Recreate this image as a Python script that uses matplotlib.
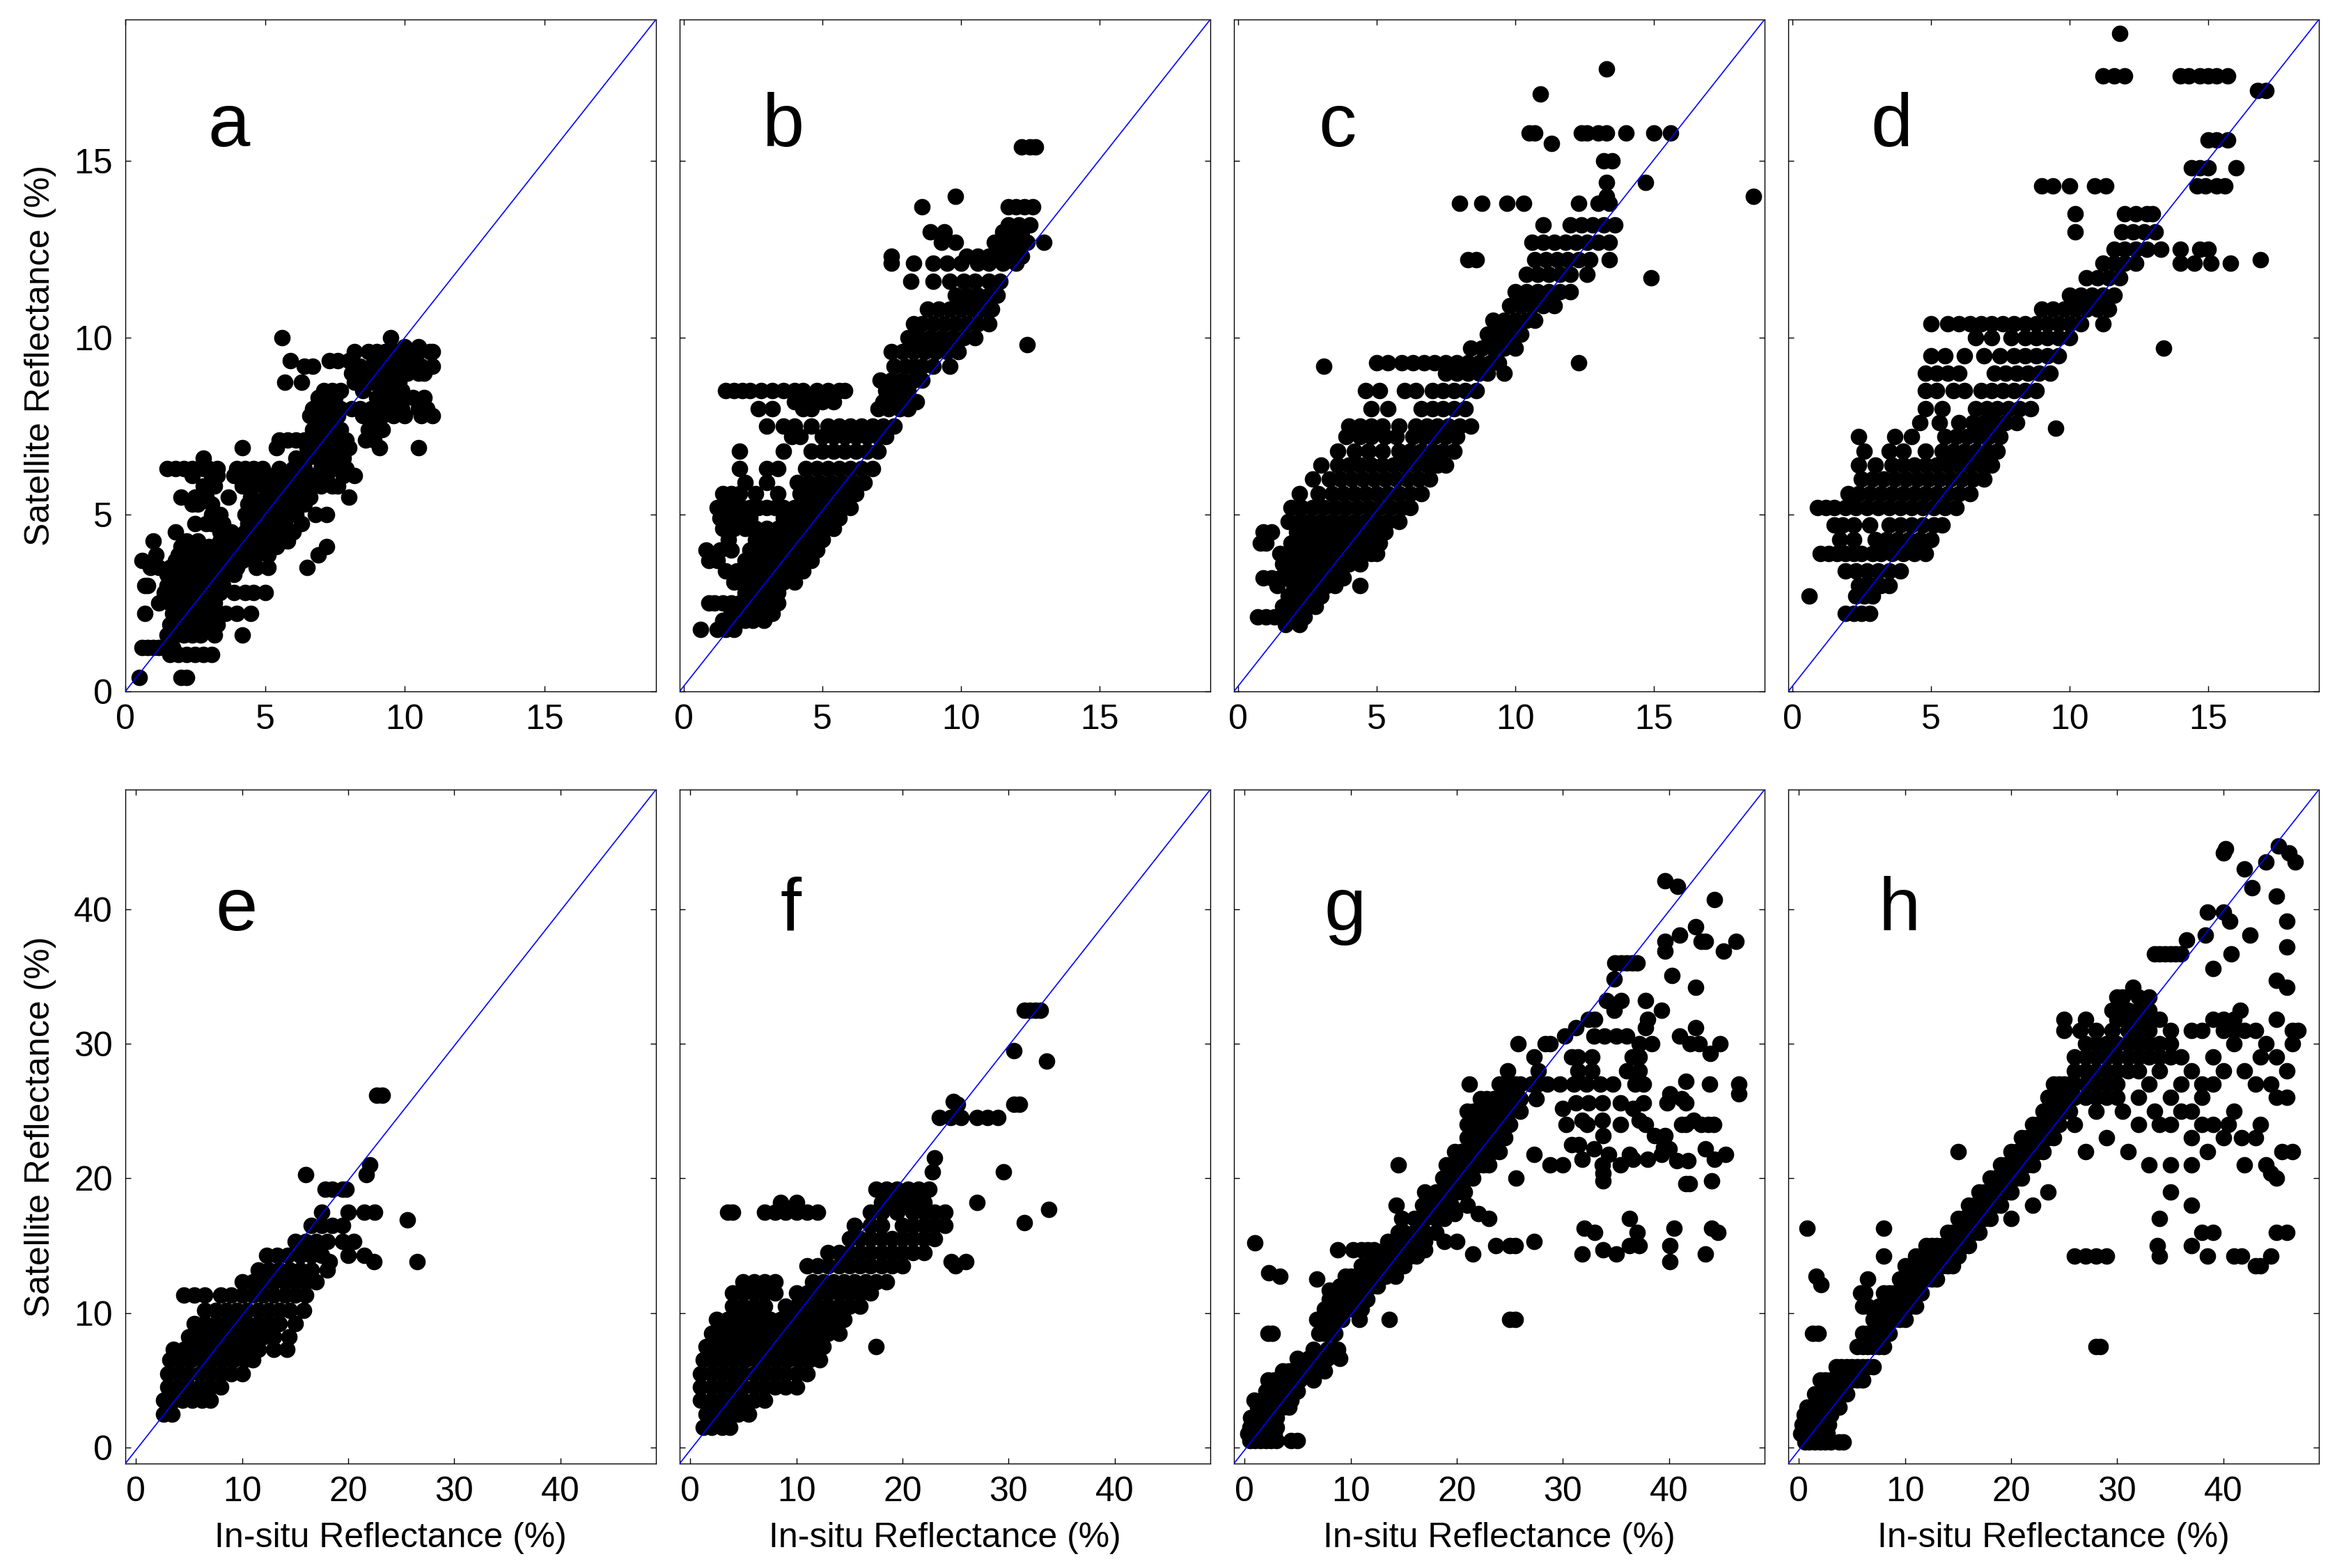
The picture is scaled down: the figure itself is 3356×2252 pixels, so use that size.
import matplotlib
matplotlib.use("Agg")
import matplotlib.pyplot as plt

plt.rcParams['font.family'] = ['Liberation Sans', 'DejaVu Sans']

# values, satellite reflectance level -> in-situ values
rows_a = {
    0.4: [0.5, 2.0, 2.2], 1.05: [1.6, 1.9, 2.2, 2.5, 2.8, 3.1], 1.25: [0.6, 0.8, 1.0, 1.2, 1.4, 1.7],
    1.6: [1.5, 1.8, 2.1, 2.4, 2.7, 3.2, 4.2], 1.9: [1.6, 2.0, 2.4, 2.8, 3.3],
    2.2: [0.7, 1.7, 2.0, 2.4, 2.8, 3.2, 3.6, 4.0, 4.5], 2.5: [1.2, 1.6, 2.0, 2.4, 2.8, 3.2],
    2.8: [1.4, 1.8, 2.2, 2.6, 3.0, 3.4, 3.9, 4.3, 4.6, 5.0], 3.0: [0.7, 0.8, 1.5, 1.9, 2.3, 2.7, 3.1, 3.5],
    3.3: [1.5, 1.9, 2.3, 2.7, 3.1, 3.5, 3.9], 3.5: [0.9, 1.2, 1.6, 2.0, 2.4, 2.8, 3.2, 3.6, 4.0, 4.7, 5.1, 6.5],
    3.7: [0.6, 1.8, 2.2, 2.6, 3.0, 3.4, 3.8, 4.2, 4.6], 3.85: [1.1, 1.9, 2.3, 2.7, 3.1, 3.5, 3.9, 4.3, 4.7, 5.1, 6.9],
    4.1: [2.0, 2.6, 3.0, 3.4, 3.8, 4.2, 4.6, 5.0, 5.4, 7.2], 4.25: [1.0, 2.2, 2.6, 3.4, 4.0, 4.6, 5.0, 5.6, 5.8],
    4.5: [1.8, 3.4, 3.8, 4.3, 4.8, 5.2, 5.7, 6.0], 4.75: [2.5, 2.9, 3.1, 3.5, 4.4, 4.8, 5.2, 5.7, 6.3],
    5.0: [3.1, 3.4, 4.3, 4.7, 5.1, 5.5, 5.9, 6.1, 6.8, 7.2], 5.3: [2.4, 2.6, 3.1, 4.4, 4.8, 5.2, 5.6, 6.0, 6.4],
    5.5: [2.0, 2.5, 2.9, 3.7, 4.5, 5.0, 5.4, 5.8, 6.2, 6.6, 8.0],
    5.8: [2.8, 3.2, 4.2, 4.6, 5.0, 5.4, 5.8, 6.2, 6.6, 7.0, 7.4, 7.6],
    6.1: [2.4, 3.1, 3.3, 3.9, 4.3, 4.7, 5.1, 5.5, 6.0, 6.4, 6.8, 7.2, 7.8, 8.2],
    6.3: [1.5, 1.8, 2.1, 2.4, 2.8, 3.0, 3.3, 4.0, 4.3, 4.6, 4.9, 5.5, 6.0, 6.4, 7.0, 7.4, 7.9],
    6.6: [2.8, 6.1, 6.5, 6.9, 7.3, 7.8], 6.9: [4.2, 5.4, 6.5, 6.9, 7.3, 7.7, 8.0, 9.1, 10.5],
    7.1: [5.5, 5.8, 6.1, 6.4, 6.7, 7.1, 7.5, 7.9, 8.6, 8.9], 7.4: [6.7, 7.0, 7.4, 7.7, 8.7, 9.0, 9.2],
    7.8: [6.6, 6.9, 7.2, 7.6, 8.5, 8.9, 9.2, 9.6, 10.0, 10.6, 11.0],
    8.0: [6.7, 7.0, 7.3, 7.7, 8.1, 8.4, 8.8, 9.2, 9.6, 9.9, 10.5, 10.8],
    8.3: [6.9, 7.2, 7.5, 9.0, 9.3, 9.6, 9.9, 10.3, 10.7], 8.5: [7.1, 7.4, 7.7, 8.5, 9.2, 9.6, 9.9],
    8.75: [5.7, 6.3, 8.2, 8.5, 8.8, 9.2, 9.5, 9.8], 9.0: [8.1, 8.4, 8.8, 9.1, 9.4, 9.8, 10.1, 10.5, 10.7],
    9.2: [6.4, 6.7, 8.4, 8.8, 9.2, 9.5, 9.9, 10.3, 10.6, 11.0], 9.35: [5.9, 7.3, 7.6, 8.0, 9.0, 9.4, 9.8, 10.2],
    9.6: [8.2, 8.7, 9.0, 9.3, 9.7, 10.1, 10.5, 10.9, 11.0], 9.75: [10.0, 10.5], 10.0: [5.6, 9.5],
}
rows_b = {
    1.75: [0.6, 1.2, 1.5, 1.8], 2.0: [1.4, 1.8, 2.2, 2.5, 2.9], 2.2: [1.7, 2.0, 2.4, 2.8, 3.2],
    2.5: [0.9, 1.1, 1.4, 1.7, 2.0, 2.3, 2.6, 3.0, 3.4], 2.8: [2.2, 2.6, 3.0, 3.4],
    3.1: [1.8, 2.1, 2.4, 2.8, 3.2, 3.6, 4.0], 3.4: [1.5, 1.9, 2.3, 2.7, 3.1, 3.5, 3.9, 4.3],
    3.7: [0.9, 1.2, 2.2, 2.6, 3.0, 3.4, 3.8, 4.2, 4.6], 4.0: [0.8, 1.3, 1.7, 2.4, 2.8, 3.2, 3.6, 4.0, 4.4, 4.8],
    4.3: [1.6, 2.6, 3.0, 3.4, 3.8, 4.2, 4.6, 5.0], 4.6: [1.4, 1.8, 2.2, 2.6, 3.0, 3.4, 3.8, 4.2, 4.6, 5.0, 5.4],
    4.9: [1.3, 1.6, 2.0, 2.4, 3.6, 4.0, 4.4, 4.8, 5.2, 5.6],
    5.2: [1.2, 1.5, 1.8, 2.1, 2.4, 2.7, 3.0, 3.3, 3.6, 4.0, 4.4, 4.8, 5.2, 5.6, 6.0],
    5.6: [1.4, 1.7, 2.0, 2.6, 3.4, 4.2, 4.6, 5.0, 5.4, 5.8, 6.2], 5.9: [2.2, 3.0, 4.1, 4.5, 4.9, 5.3, 5.7, 6.1, 6.5],
    6.3: [2.0, 3.0, 3.4, 4.4, 4.8, 5.2, 5.6, 6.0, 6.4, 6.8], 6.8: [2.0, 3.6, 4.6, 5.0, 5.4, 5.8, 6.2, 6.6, 7.0],
    7.2: [3.9, 4.2, 5.0, 5.4, 5.8, 6.2, 6.6, 7.0, 7.3], 7.5: [3.0, 3.6, 4.0, 4.6, 5.2, 5.6, 6.0, 6.4, 6.8, 7.2, 7.6],
    8.0: [2.7, 3.2, 4.3, 4.6, 7.0, 7.4, 7.8, 8.1], 8.2: [4.0, 4.5, 5.0, 5.4, 7.2, 7.6, 8.0, 8.4],
    8.5: [1.5, 1.8, 2.1, 2.4, 2.8, 3.2, 3.6, 4.0, 4.3, 4.8, 5.2, 5.6, 5.8, 7.3, 7.7, 8.1],
    8.8: [7.1, 7.5, 7.9, 8.3, 8.6], 9.2: [7.6, 8.0, 8.3, 8.6, 9.0, 9.6],
    9.6: [7.5, 7.9, 8.3, 8.7, 9.1, 9.5, 9.9], 9.8: [12.4], 10.0: [8.1, 8.5, 8.9, 9.3, 9.7, 10.1, 10.5],
    10.4: [8.3, 8.6, 9.0, 9.4, 9.8, 10.2, 10.6, 11.0], 10.8: [8.8, 9.2, 9.6, 10.0, 10.4, 10.8, 11.1],
    11.2: [9.8, 10.2, 10.6, 11.0, 11.3], 11.6: [8.2, 9.0, 9.6, 10.1, 10.5, 11.0, 11.4],
    12.1: [7.5, 8.3, 9.0, 9.5, 10.0, 10.6, 11.0, 11.5, 12.0], 12.3: [7.5, 10.2, 10.6, 11.0, 11.4, 11.8, 12.2],
    12.7: [9.3, 9.8, 11.2, 11.6, 12.0, 12.4, 13.0], 13.0: [8.9, 9.4, 11.5, 11.9, 12.2], 13.2: [11.7, 12.1, 12.5],
    13.7: [8.6, 11.7, 12.0, 12.3, 12.6], 14.0: [9.8], 15.4: [12.2, 12.5, 12.7],
}
rows_c = {
    1.9: [1.7, 2.2], 2.1: [0.7, 1.0, 1.3, 1.6, 2.0, 2.4], 2.4: [1.6, 2.0, 2.4, 2.8], 2.7: [1.8, 2.2, 2.6, 3.0],
    3.0: [1.4, 2.0, 2.4, 2.8, 3.2, 3.5, 4.4], 3.2: [0.9, 1.2, 1.5, 1.8, 2.2, 2.6, 3.0, 3.4, 3.8],
    3.6: [1.6, 2.0, 2.4, 2.8, 3.2, 3.6, 4.0, 4.4], 3.9: [1.5, 2.0, 2.4, 2.8, 3.2, 3.6, 4.0, 4.4, 4.8, 5.0],
    4.2: [0.8, 1.0, 1.9, 2.3, 2.7, 3.1, 3.5, 3.9, 4.3, 4.7, 5.1],
    4.5: [0.9, 1.2, 2.1, 2.5, 2.9, 3.3, 3.7, 4.1, 4.5, 4.9, 5.3],
    4.8: [1.8, 2.2, 2.6, 3.0, 3.4, 3.8, 4.2, 4.6, 5.0, 5.4, 5.8],
    5.2: [1.9, 2.3, 2.7, 3.1, 3.5, 3.9, 4.3, 4.7, 5.1, 5.5, 5.9, 6.2],
    5.6: [2.2, 2.9, 3.4, 3.8, 4.2, 4.6, 5.0, 5.4, 5.8, 6.2, 6.6],
    6.0: [2.7, 3.3, 3.7, 4.1, 4.5, 4.9, 5.3, 5.7, 6.1, 6.5, 6.9],
    6.4: [3.0, 3.6, 4.0, 4.4, 4.8, 5.2, 5.6, 6.0, 6.4, 6.8, 7.2, 7.5],
    6.8: [3.6, 4.2, 4.7, 5.2, 5.8, 6.2, 6.6, 7.0, 7.4, 7.8],
    7.2: [3.9, 4.4, 4.8, 5.3, 5.7, 6.3, 6.7, 7.1, 7.5, 7.9],
    7.5: [4.0, 4.4, 4.8, 5.2, 5.8, 6.4, 6.8, 7.2, 7.6, 8.0, 8.4], 8.0: [4.8, 5.4, 6.6, 7.0, 7.4, 7.8, 8.2],
    8.5: [4.6, 5.1, 6.0, 6.4, 7.0, 7.4, 7.8, 8.2, 8.6], 9.0: [7.5, 7.9, 8.3, 8.7, 9.0, 9.6], 9.2: [3.1],
    9.3: [5.0, 5.4, 5.9, 6.3, 6.7, 7.1, 7.5, 7.9, 8.3, 8.7, 9.1, 9.4, 12.3], 9.7: [8.4, 8.8, 9.2, 9.6, 10.0],
    10.1: [9.0, 9.4, 9.8, 10.2], 10.5: [9.2, 9.6, 10.0, 10.4, 10.7], 10.9: [9.8, 10.2, 10.6, 11.0, 11.4],
    11.3: [10.0, 10.4, 10.8, 11.2, 11.6, 12.0], 11.7: [14.9], 11.8: [10.4, 10.8, 11.2, 11.6, 12.0, 12.6],
    12.2: [8.3, 8.6, 10.7, 11.1, 11.5, 11.9, 12.3, 12.7, 13.4], 12.7: [10.6, 11.0, 11.4, 11.8, 12.2, 12.6, 13.0, 13.4],
    13.2: [11.0, 12.0, 12.4, 12.8, 13.2, 13.6], 13.8: [8.0, 8.8, 9.7, 10.3, 12.3, 13.0, 13.4], 14.0: [13.3, 18.6],
    14.4: [13.3, 14.7], 15.0: [13.2, 13.5], 15.5: [11.3],
    15.8: [10.5, 10.7, 12.4, 12.6, 13.0, 13.3, 14.0, 15.0, 15.6], 16.9: [10.9], 17.6: [13.3],
}
rows_d = {
    2.2: [1.9, 2.2, 2.5, 2.8], 2.7: [0.6, 2.3, 2.6, 2.9], 3.0: [2.4, 2.6, 2.9, 3.2, 3.5],
    3.4: [1.9, 2.3, 2.7, 3.1, 3.5, 3.9], 3.9: [1.0, 1.3, 1.6, 1.9, 2.2, 2.5, 2.9, 3.2, 3.6, 4.0, 4.4, 4.8],
    4.3: [1.7, 2.2, 3.0, 3.4, 3.8, 4.2, 4.6, 5.0], 4.7: [1.5, 1.8, 2.2, 2.8, 3.5, 3.9, 4.3, 4.7, 5.1, 5.4],
    5.2: [0.9, 1.2, 1.5, 1.9, 2.3, 2.7, 3.1, 3.5, 3.9, 4.3, 4.7, 5.1, 5.5, 5.9],
    5.6: [2.0, 2.4, 2.8, 3.2, 3.6, 4.0, 4.4, 4.8, 5.2, 5.6, 6.0, 6.4],
    6.0: [2.5, 2.9, 3.3, 3.7, 4.1, 4.5, 4.9, 5.3, 5.7, 6.1, 6.5, 6.9],
    6.4: [2.4, 3.0, 3.6, 4.0, 4.4, 4.8, 5.2, 5.6, 6.0, 6.4, 6.8, 7.2],
    6.8: [2.6, 3.5, 4.0, 4.8, 5.4, 5.8, 6.2, 6.6, 7.0, 7.4], 7.2: [2.4, 3.7, 4.3, 5.5, 5.9, 6.3, 6.7, 7.1, 7.5],
    7.45: [9.5], 7.6: [4.6, 5.3, 6.0, 6.5, 6.9, 7.3, 7.7, 8.1], 8.0: [4.8, 5.4, 6.6, 7.0, 7.4, 7.8, 8.2, 8.6],
    8.5: [4.8, 5.2, 5.8, 6.2, 6.8, 7.2, 7.6, 8.0, 8.4, 8.8], 9.0: [4.8, 5.2, 5.6, 6.0, 7.3, 7.7, 8.1, 8.5, 8.9, 9.3],
    9.5: [5.0, 5.5, 6.2, 6.9, 7.5, 8.0, 8.4, 8.8, 9.2, 9.6], 9.7: [13.4], 10.0: [6.6, 7.2, 7.9, 8.4, 8.8, 9.2, 9.6, 10.0],
    10.4: [5.0, 5.6, 6.0, 6.4, 6.8, 7.2, 7.6, 8.0, 8.4, 8.8, 9.2, 9.6, 10.0, 10.4, 11.2],
    10.8: [9.0, 9.4, 9.8, 10.2, 10.6, 11.0, 11.4], 11.2: [10.0, 10.4, 10.8, 11.2, 11.6],
    11.7: [10.6, 11.0, 11.4, 11.8], 12.1: [11.2, 11.6, 12.0, 12.4, 14.0, 14.5, 15.1, 15.8],
    12.2: [16.9], 12.5: [11.6, 12.0, 12.4, 12.8, 13.3, 14.0, 14.7, 15.0], 13.0: [10.2, 11.9, 12.3, 12.7, 13.1],
    13.5: [10.2, 12.0, 12.4, 12.8, 13.0], 14.3: [9.0, 9.4, 10.0, 10.9, 11.3, 14.6, 14.9, 15.3, 15.6],
    14.8: [14.4, 14.7, 15.0, 16.0], 15.6: [15.0, 15.3, 15.7], 17.0: [16.8, 17.1],
    17.4: [11.2, 11.6, 12.0, 14.0, 14.3, 14.7, 15.0, 15.3, 15.7], 18.6: [11.8],
}
rows_e = {
    2.5: [2.6, 3.4], 3.5: [2.6, 3.5, 4.4, 5.3, 6.2, 7.0], 4.5: [3, 4, 5, 6, 7, 8],
    5.5: [3, 4, 5, 6, 7, 8, 9, 10], 6.5: [3.2, 4.2, 5.2, 6.2, 7.2, 8.2, 9.2, 10.2, 11],
    7.3: [3.5, 4.5, 5.5, 6.5, 7.5, 8.5, 9.5, 10.5, 11.5, 13, 14.2], 8.2: [5, 6, 7, 8, 9, 10, 11, 12, 13, 14.4],
    9.2: [5.5, 6.5, 7.5, 8.5, 9.5, 10.5, 11.5, 12.5, 13.5, 15], 10.2: [6.5, 7.5, 8.5, 9.5, 10.5, 11.5, 12.5, 13.5, 14.5, 15.8],
    11.3: [4.5, 5.5, 6.5, 8, 9, 10, 11, 12, 13, 14, 15, 16], 12.3: [10, 11, 12, 13, 14, 15, 16, 17],
    13.2: [11.5, 12.5, 13.5, 14.5, 15.5, 16.5, 18], 13.8: [18.2, 22.4, 26.5],
    14.3: [12.3, 13.3, 14.3, 15.5, 16.5, 17.5, 20, 21.5], 15.3: [15, 16, 17, 18, 19.5, 20.5],
    16.5: [16.5, 17.5, 18.5, 19.5], 16.9: [25.6], 17.5: [17.5, 20, 21.5, 22.5], 19.2: [17.8, 18.5, 19.5, 19.8],
    20.3: [16, 21.7], 21: [22], 26.2: [22.7, 23.2],
}
rows_f = {
    1.5: [1.2, 2, 3, 3.7], 2.5: [1.5, 2.5, 3.5, 4.5, 5.5], 3.5: [1, 2, 3, 4, 5, 6, 7],
    4.5: [1, 2, 3, 4, 5, 6, 7, 8, 9, 10], 5.5: [1, 2, 3, 4, 5, 6, 7, 8, 9, 10, 11],
    6.5: [1.2, 2.2, 3.2, 4.2, 5.2, 6.2, 7.2, 8.2, 9.2, 10.2, 11.2, 12.2],
    7.5: [1.5, 2.5, 3.5, 4.5, 5.5, 6.5, 7.5, 8.5, 9.5, 10.5, 11.5, 12.5, 17.5],
    8.5: [2, 3, 4, 5, 6, 7, 8, 9, 10, 11, 12, 13, 14],
    9.5: [2.5, 3.5, 4.5, 5.5, 6.5, 7.5, 8.5, 9.5, 10.5, 11.5, 12.5, 13.5, 14.5],
    10.5: [4, 5, 6, 7, 9, 10, 11, 12, 13, 14, 15, 16], 11.5: [4, 5, 6, 7, 8, 10, 11, 12, 13, 14, 15, 16, 17],
    12.3: [5, 6, 7, 8, 11.5, 12.5, 13.5, 14.5, 15.5, 16.5, 17.5, 18.5],
    13.5: [11, 12, 13, 14, 15, 16, 17, 18, 19, 20, 25], 13.8: [24.6, 26],
    14.5: [13, 14, 15, 16, 17, 18, 19, 20, 21, 22], 15.5: [15, 16, 17, 18, 19, 20, 21, 22, 23],
    16.5: [15.5, 17, 18, 20, 21, 22, 23, 24], 16.7: [31.5],
    17.5: [3.5, 4, 7, 8, 9, 10, 11, 12, 17, 18, 19.5, 21, 22, 23, 24], 17.7: [33.8],
    18.2: [8.5, 10, 18, 19, 20, 21, 22, 27], 19.2: [17.5, 18.5, 19.5, 20.5, 21.5, 22.5],
    20.5: [22.8, 29.5], 21.5: [23], 24.5: [23.5, 24.5, 25.5, 27, 28, 29], 25.5: [25.2, 30.5, 31], 25.7: [24.8],
    28.7: [33.6], 29.5: [30.5], 32.5: [31.5, 32, 32.5, 33],
}
rows_g = {
    0.5: [0.5, 1, 1.5, 2, 2.5, 3, 4.4, 5], 1: [0.3, 0.8, 1.3, 1.8, 2.3, 2.8], 1.5: [0.5, 1, 1.5, 2, 2.5, 3],
    2.2: [0.6, 1.2, 1.8, 2.4, 3], 3: [1.2, 1.8, 2.4, 3, 3.6, 4.2], 3.5: [0.9, 2, 2.6, 3.2, 3.8, 4.4],
    4.2: [2, 2.6, 3.2, 3.8, 4.4, 5], 5: [2.2, 2.8, 3.4, 4, 4.6, 5.2, 6.5], 5.7: [3.6, 4.2, 4.8, 5.4, 6, 6.6, 7.5],
    6.6: [5, 6, 6.5, 7, 7.8, 9], 7.3: [6.5, 7.8, 8.4, 8.8], 8.5: [2.2, 2.6, 7, 7.5, 8, 8.5],
    9.5: [25, 25.5, 6.8, 7, 8, 8.6, 9.2, 10.8, 13.6], 10.3: [7.5, 8, 8.5, 9, 9.5, 10, 11],
    11: [8, 8.5, 9, 9.5, 10, 10.5, 11, 11.5], 11.7: [8, 8.6], 12: [9, 9.5, 10, 10.5, 11, 11.5, 12, 12.5],
    12.5: [6.8], 12.7: [3.3, 9.5, 10, 11.2, 11.6, 12.2, 12.8, 13.3, 14.2], 13: [2.3],
    13.5: [11, 11.5, 12, 12.5, 13, 13.5, 14, 15], 13.8: [40.1],
    14.2: [12, 12.6, 13, 13.4, 13.8, 14.2, 14.6, 15, 15.6, 16.2],
    14.4: [21.5, 31.8, 35, 43.4], 14.7: [8.8, 10.2, 11, 11.6, 12.2, 13.2, 13.8, 14.4, 15, 15.6, 16.5, 17, 33.8],
    15: [23.7, 25, 25.5, 36.3, 37.2, 40.1], 15.2: [1], 15.3: [13.5, 14, 14.5, 15, 15.5, 16, 16.5, 17, 18.8, 20, 27.3],
    16: [14.5, 15, 16, 17, 18, 33, 37, 44.6], 16.3: [32, 40.5, 44],
    17: [14.8, 16, 16.5, 17, 18, 18.8, 23, 36.3], 17.4: [19.8, 22], 18: [14.3, 16.8, 17.5, 18, 18.5, 19, 19.5, 21],
    19: [17, 18, 18.5, 19, 20, 20.5, 20.7], 19.6: [41.6, 41.9], 19.8: [33.8, 44],
    20: [18.7, 19.3, 20, 20.5, 21, 21.5, 25.6], 20.4: [33.8],
    21: [14.5, 19, 19.6, 20.2, 20.8, 21.4, 22, 22.5, 23, 28.8, 30, 33.7, 35.4], 21.3: [41.8, 40.7],
    21.4: [31.8, 36.6, 38, 44.3], 21.8: [27.3, 34.3, 36.3, 39.3, 45.3],
    22: [19.8, 20.4, 21, 21.6, 22.2, 22.8, 23.4, 24], 22.2: [32.9, 40, 43.4], 22.3: [39.5], 22.5: [30.8, 31.5],
    23: [21, 21.5, 22, 22.5, 23, 23.5, 24, 24.5], 23.2: [33.8, 38.6, 39.6],
    24: [21, 21.5, 22, 23, 23.5, 24, 24.5, 25, 30.3, 32.3, 35.4, 37.8, 41.2, 41.6, 43, 43.7, 44.2],
    24.3: [31.8, 33.7, 37.2, 42.3], 25: [21, 21.6, 22.2, 23, 23.5, 24, 24.5, 25, 26],
    25.2: [30, 36.6], 25.6: [31.2, 32.4, 33.7, 35.4, 37.6, 39.8, 41.6], 25.9: [22.2, 22.8, 23.5, 24.2, 25, 26, 27.5, 41.2],
    26.3: [40.1, 46.6], 27: [21.2, 24, 24.5, 25, 25.5, 26, 27, 27.6, 28.5, 29.7, 31, 32.2, 33.5, 34.7, 36.8, 37.6, 43.8, 46.6],
    27.2: [41.6], 28: [24.8, 27.7, 31.4, 32.7, 36, 37.2], 29: [27.3, 30.8, 31.4, 32.7, 36.5, 37.2],
    30: [25.8, 28.3, 28.8, 37.2, 38.4, 42, 42.8, 44.8], 29.3: [43.9], 30.6: [30.2, 32.9, 33.9, 35, 36, 41],
    31.2: [31.2, 37.8, 42.5], 31.8: [32.4, 33, 38], 32.5: [34.8, 39.3], 33.2: [34.1, 35.5, 37.8],
    34.2: [42.5], 34.8: [34.8], 35.1: [40.3], 36: [34.9, 35.5, 36, 36.5, 37], 36.9: [39.6, 45.1],
    37.6: [39.6, 43, 43.4, 46.3], 38.1: [41], 38.7: [42.5], 40.7: [44.3], 41.7: [40.8], 42.1: [39.6],
}
rows_h = {
    0.4: [0.6, 1, 1.5, 2, 2.5, 3, 3.8, 4.2], 1: [0.2, 0.7, 1.2, 1.7, 2.2, 2.7], 1.7: [0.3, 0.8, 1.3, 1.8, 2.3, 2.8],
    2.4: [0.5, 1, 1.5, 2, 2.5, 3], 3: [0.8, 1.4, 2, 2.6, 3.2, 3.8], 4: [1.5, 2, 2.5, 3, 3.5, 4, 4.5],
    5: [2, 2.5, 3, 3.5, 4, 4.5, 5, 5.5, 6], 6: [3.5, 4, 4.5, 5, 5.5, 6, 6.5, 7],
    7.5: [28, 28.4, 5.5, 6, 6.5, 7, 7.5, 8], 8.5: [1.3, 1.8, 6, 6.5, 7, 7.5, 8, 8.5],
    9.5: [7, 7.5, 8, 8.5, 9, 9.5, 10], 10.5: [6, 6.5, 7.5, 8, 8.5, 9, 9.5, 10, 10.5, 11],
    11.5: [5.8, 6.2, 8, 8.5, 9, 9.5, 10, 10.5, 11, 11.5], 12.1: [2.1], 12.7: [1.6],
    12.5: [6.5, 9.5, 10, 10.5, 11, 11.5, 12, 12.5, 13],
    13.5: [10, 10.5, 11, 11.5, 12, 12.5, 13, 13.5, 14, 14.5, 43, 43.5],
    14.2: [8, 11, 11.5, 12, 12.5, 13, 13.5, 14, 14.5, 15, 26, 27, 28, 29, 34, 38.5, 41, 41.7, 44.5],
    15: [12, 12.5, 13, 13.5, 14, 14.5, 15, 15.5, 16, 33.8, 37],
    16: [14, 14.5, 15, 15.5, 16, 16.5, 17, 38, 39, 45, 46], 16.3: [0.8, 8],
    17: [15, 15.5, 16, 16.5, 17, 17.5, 18, 20, 34], 18: [16, 16.5, 17, 17.5, 18, 18.5, 19, 22, 37],
    19: [17, 17.5, 18, 18.5, 19, 19.5, 20, 23.5, 35], 20: [18, 18.5, 19, 19.5, 20, 20.5, 21, 45],
    20.4: [44.5], 21: [19, 19.5, 20, 20.5, 21, 21.5, 22, 33, 35, 37, 42, 44],
    22: [15, 20, 20.5, 21, 21.5, 22, 22.5, 23, 27, 31, 38.5, 45.5, 46.5],
    23: [21, 21.5, 22, 22.5, 23, 23.5, 24, 29, 37, 40, 43, 41.7],
    24: [22, 22.5, 23, 23.5, 24, 24.5, 26, 32, 34, 35, 38, 39, 40.5, 43.5],
    25: [23, 23.5, 24, 24.5, 25, 25.5, 28, 30.5, 33.5, 36, 37, 41], 26: [23.5, 24, 24.5, 25, 25.5, 26, 27, 28, 29, 30, 32, 35, 38, 45, 46],
    27: [24, 24.5, 25, 25.5, 26, 27, 28, 29, 30, 33, 36, 38, 39, 43, 44.5],
    28: [26, 27, 28, 29, 30, 31, 32, 34, 37, 40, 42, 46], 29: [26, 27, 28, 29, 30, 31, 32, 33, 34, 35, 36, 39, 43.5, 45],
    30: [27, 28, 29, 30, 31, 32, 33, 34, 35, 41, 44, 46.5], 31: [25, 26.5, 28, 29.5, 31, 32, 33, 35, 37, 38, 40, 41, 42, 43, 46.5, 47],
    31.8: [25, 27, 30, 31, 32, 33, 34, 39, 40, 41, 45],
    32.5: [29.5, 30, 31, 32, 33, 41.6], 33.5: [30, 30.5, 32, 33], 34.2: [31.5, 46], 34.7: [45],
    35.6: [39], 36.7: [33.5, 34, 34.5, 35, 35.5, 36, 40.7], 37.2: [46], 37.7: [36.5], 38.1: [38.3, 42.5],
    39.1: [40.6, 46], 39.8: [38.5, 40], 41: [45], 41.6: [42.7], 43: [42], 43.5: [44, 46.8],
    44.2: [46.2, 40], 44.5: [40.2], 44.7: [45.2],
}

panel_rows = [rows_a, rows_b, rows_c, rows_d, rows_e, rows_f, rows_g, rows_h]
panel_letters = ['a', 'b', 'c', 'd', 'e', 'f', 'g', 'h']
top_ticks = [0, 5, 10, 15]
bottom_ticks = [0, 10, 20, 30, 40]
ylabel = 'Satellite Reflectance (%)'
xlabel = 'In-situ Reflectance (%)'


def draw_panel(ax, rows, letter, top_row, first_col):
    for y, xs in rows.items():
        ax.scatter(xs, [y] * len(xs), s=290, c='k', linewidths=0, zorder=2)
    # the 1:1 line runs corner to corner
    ax.plot([0, 1], [0, 1], transform=ax.transAxes, color='#0000ff', lw=1.2, zorder=3)

    if top_row:
        ax.set_xlim(0 if first_col else -0.15, 19)
        ax.set_ylim(0, 19)
        ax.set_xticks(top_ticks)
        ax.set_yticks(top_ticks)
    else:
        ax.set_xlim(-1, 49)
        ax.set_ylim(-1.2, 48.9)
        ax.set_xticks(bottom_ticks)
        ax.set_yticks(bottom_ticks)
        ax.set_xlabel(xlabel, fontsize=36, labelpad=14)

    ax.tick_params(direction='in', length=6, width=1, top=True, right=True, labelsize=36, pad=13)
    if first_col:
        ax.set_ylabel(ylabel, fontsize=36, labelpad=18)
    else:
        ax.tick_params(labelleft=False)
    for spine in ax.spines.values():
        spine.set_linewidth(1)

    ax.text(0.195 if top_row else 0.21, 0.84 if top_row else 0.82, letter, transform=ax.transAxes,
            fontsize=78, ha='center', va='center')


def main():
    W, H = 3356, 2252
    fig = plt.figure(figsize=(W / 100, H / 100), dpi=100)
    lefts = [180, 976, 1772, 2568]
    for i in range(8):
        top_row = i < 4
        top, bottom = (28, 993) if top_row else (1134, 2102)
        ax = fig.add_axes([lefts[i % 4] / W, 1 - bottom / H, 762 / W, (bottom - top) / H])
        draw_panel(ax, panel_rows[i], panel_letters[i], top_row, i % 4 == 0)
    fig.savefig('out.png', dpi=100)


if __name__ == "__main__":
    main()
